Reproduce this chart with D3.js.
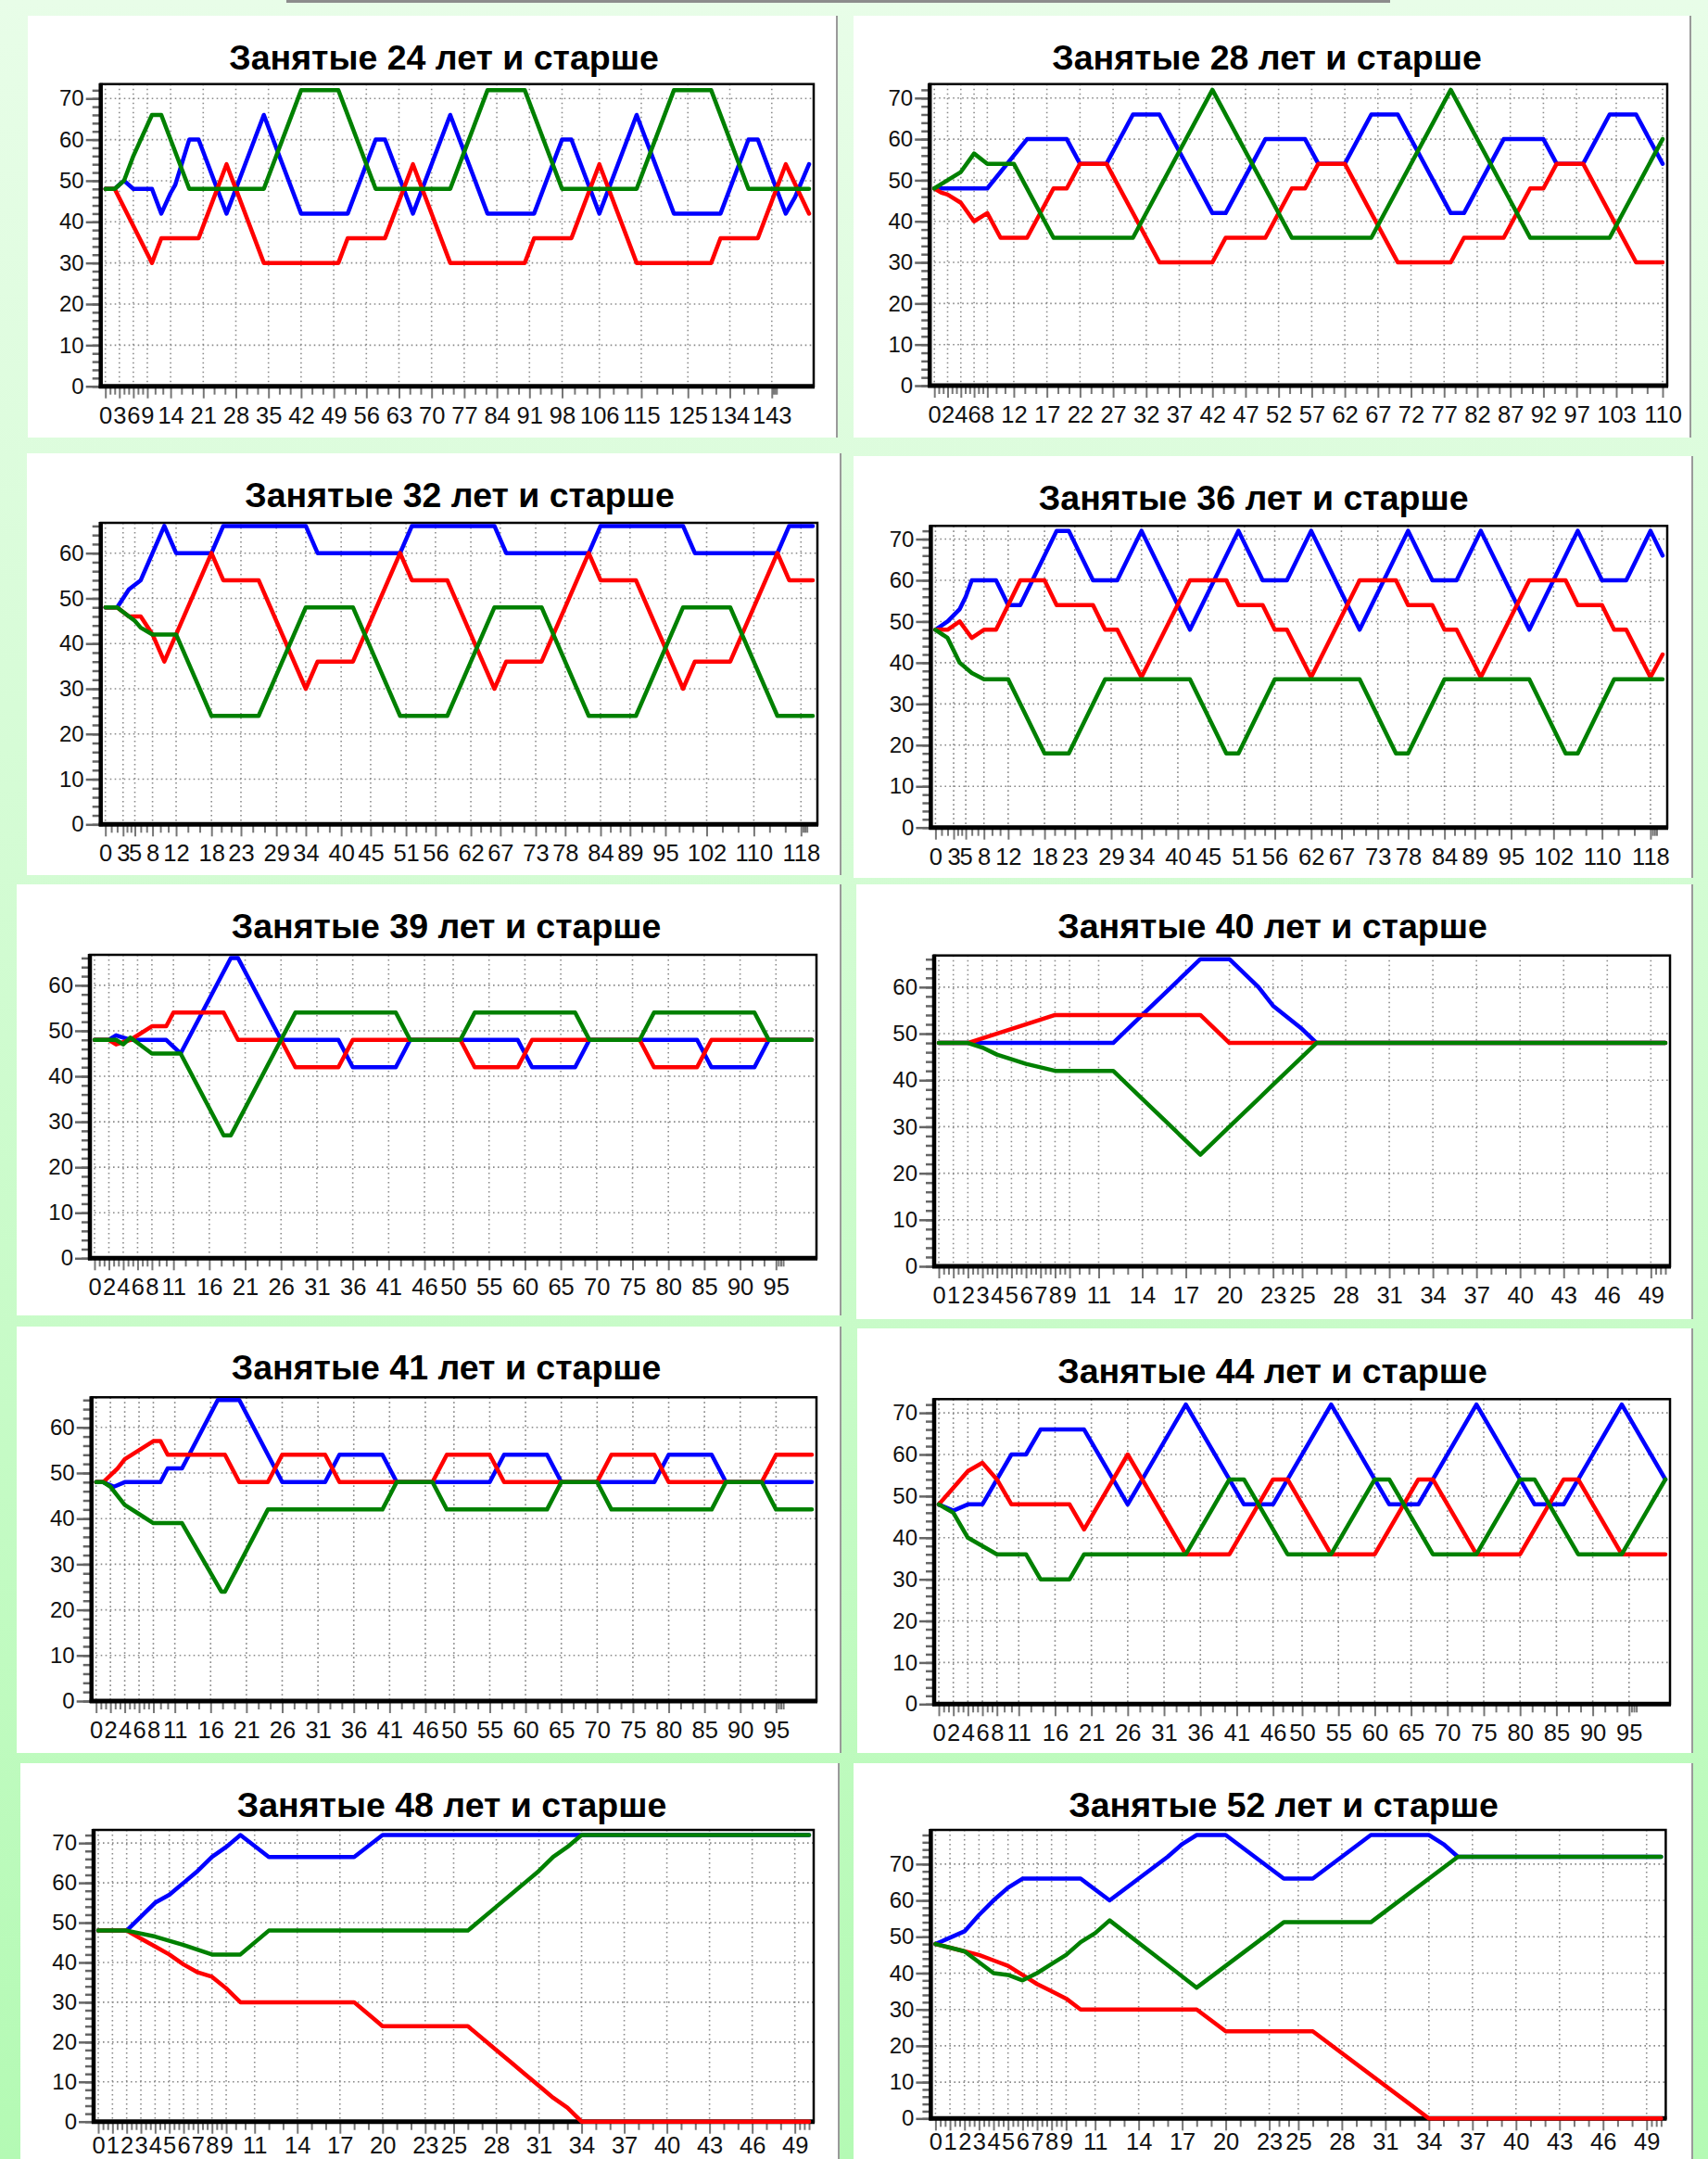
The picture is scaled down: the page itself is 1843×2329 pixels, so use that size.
<!DOCTYPE html>
<html>
<head>
<meta charset="utf-8">
<script src="https://cdn.jsdelivr.net/npm/d3@7/dist/d3.min.js"></script>
<style>
  body { margin: 0; background: #e8fde8; }
  svg { display: block; }
</style>
</head>
<body>
<script>
// Data
// ------------------------------

var titles = [
  "Занятые 24 лет и старше", "Занятые 28 лет и старше",
  "Занятые 32 лет и старше", "Занятые 36 лет и старше",
  "Занятые 39 лет и старше", "Занятые 40 лет и старше",
  "Занятые 41 лет и старше", "Занятые 44 лет и старше",
  "Занятые 48 лет и старше", "Занятые 52 лет и старше"
];
var lastStep = [151, 110, 120, 120, 100, 50, 100, 100, 50, 50];
var yTops = [73.5, 73.4, 66.7, 73.2, 66.7, 66.8, 66.6, 73.3, 73.3, 79.4];

// x tick labels as they are printed under each chart
var ticks24 = [0, 3, 6, 9, 14, 21, 28, 35, 42, 49, 56, 63, 70, 77, 84, 91, 98, 106, 115, 125, 134, 143];
var ticks28 = [0, 2, 4, 6, 8, 12, 17, 22, 27, 32, 37, 42, 47, 52, 57, 62, 67, 72, 77, 82, 87, 92, 97, 103, 110];
var ticks32 = [0, 3, 5, 8, 12, 18, 23, 29, 34, 40, 45, 51, 56, 62, 67, 73, 78, 84, 89, 95, 102, 110, 118];
var ticks39 = [0, 2, 4, 6, 8, 11, 16, 21, 26, 31, 36, 41, 46, 50, 55, 60, 65, 70, 75, 80, 85, 90, 95];
var ticks40 = [0, 1, 2, 3, 4, 5, 6, 7, 8, 9, 11, 14, 17, 20, 23, 25, 28, 31, 34, 37, 40, 43, 46, 49];

// series as [step, value] at the corners of each line
var blue24 = [[0,48],[2,48],[4,50],[6,48],[10,48],[12,42],[14,47],[15,49],[18,60],[20,60],[26,42],[34,66],[42,42],[52,42],[58,60],[60,60],[66,42],[74,66],[82,42],[92,42],[98,60],[100,60],[106,42],[114,66],[122,42],[132,42],[138,60],[140,60],[146,42],[148,46],[151,54]];
var red24 = [[0,48],[2,48],[10,30],[12,36],[20,36],[26,54],[34,30],[50,30],[52,36],[60,36],[66,54],[74,30],[90,30],[92,36],[100,36],[106,54],[114,30],[130,30],[132,36],[140,36],[146,54],[151,42]];
var green24 = [[0,48],[2,48],[4,50],[6,56],[8,61],[10,66],[12,66],[18,48],[34,48],[42,72],[50,72],[58,48],[74,48],[82,72],[90,72],[98,48],[114,48],[122,72],[130,72],[138,48],[151,48]];

var blue28 = [[0,48],[8,48],[14,60],[20,60],[22,54],[26,54],[30,66],[34,66],[42,42],[44,42],[50,60],[56,60],[58,54],[62,54],[66,66],[70,66],[78,42],[80,42],[86,60],[92,60],[94,54],[98,54],[102,66],[106,66],[110,54]];
var red28 = [[0,48],[1,47],[2,46.5],[4,44.5],[6,40],[8,42],[10,36],[14,36],[18,48],[20,48],[22,54],[26,54],[34,30],[42,30],[44,36],[50,36],[54,48],[56,48],[58,54],[62,54],[70,30],[78,30],[80,36],[86,36],[90,48],[92,48],[94,54],[98,54],[106,30],[110,30]];
var green28 = [[0,48],[2,50],[4,52],[6,56.5],[8,54],[12,54],[18,36],[30,36],[42,72],[54,36],[66,36],[78,72],[90,36],[102,36],[110,60]];

var blue32 = [[0,48],[2,48],[4,52],[6,54],[8,60],[10,66],[12,60],[18,60],[20,66],[34,66],[36,60],[50,60],[52,66],[66,66],[68,60],[82,60],[84,66],[98,66],[100,60],[114,60],[116,66],[120,66]];
var red32 = [[0,48],[2,48],[4,46],[6,46],[8,42],[10,36],[12,42],[18,60],[20,54],[26,54],[34,30],[36,36],[42,36],[50,60],[52,54],[58,54],[66,30],[68,36],[74,36],[82,60],[84,54],[90,54],[98,30],[100,36],[106,36],[114,60],[116,54],[120,54]];
var green32 = [[0,48],[2,48],[4,46],[5,45],[6,43.5],[8,42],[12,42],[18,24],[26,24],[34,48],[42,48],[50,24],[58,24],[66,48],[74,48],[82,24],[90,24],[98,48],[106,48],[114,24],[120,24]];

var blue36 = [[0,48],[2,50],[4,53],[5,56],[6,60],[10,60],[12,54],[14,54],[20,72],[22,72],[26,60],[30,60],[34,72],[42,48],[50,72],[54,60],[58,60],[62,72],[70,48],[78,72],[82,60],[86,60],[90,72],[98,48],[106,72],[110,60],[114,60],[118,72],[120,66]];
var red36 = [[0,48],[2,48],[4,50],[6,46],[8,48],[10,48],[12,54],[14,60],[18,60],[20,54],[26,54],[28,48],[30,48],[34,36.5],[42,60],[48,60],[50,54],[54,54],[56,48],[58,48],[62,36.5],[70,60],[76,60],[78,54],[82,54],[84,48],[86,48],[90,36.5],[98,60],[104,60],[106,54],[110,54],[112,48],[114,48],[118,36.5],[120,42]];
var green36 = [[0,48],[2,46],[4,40],[6,37.5],[8,36],[12,36],[18,18],[22,18],[28,36],[42,36],[48,18],[50,18],[56,36],[70,36],[76,18],[78,18],[84,36],[98,36],[104,18],[106,18],[112,36],[120,36]];

var blue39 = [[0,48],[2,48],[3,49],[5,48],[10,48],[12,45],[19,66],[20,66],[26,48],[34,48],[36,42],[42,42],[44,48],[59,48],[61,42],[67,42],[69,48],[84,48],[86,42],[92,42],[94,48],[100,48]];
var red39 = [[0,48],[2,48],[3,47],[5,48],[8,51],[10,51],[11,54],[18,54],[20,48],[26,48],[28,42],[34,42],[36,48],[51,48],[53,42],[59,42],[61,48],[76,48],[78,42],[84,42],[86,48],[100,48]];
var green39 = [[0,48],[3,48],[4,47],[5,48.5],[8,45],[12,45],[18,27],[19,27],[26,48],[28,54],[42,54],[44,48],[51,48],[53,54],[67,54],[69,48],[76,48],[78,54],[92,54],[94,48],[100,48]];

var blue40 = [[0,48],[12,48],[14,54],[16,60],[18,66],[20,66],[22,60],[23,56],[25,51],[26,48],[50,48]];
var red40 = [[0,48],[2,48],[8,54],[18,54],[20,48],[50,48]];
var green40 = [[0,48],[2,48],[3,47],[4,45.5],[6,43.5],[8,42],[12,42],[14,36],[18,24],[20,30],[21,33],[22,36],[23,39],[25,45],[26,48],[50,48]];

var blue41 = [[0,48],[1,48],[2.5,47],[4,48],[9,48],[10,51],[12,51],[17,66],[20,66],[26,48],[32,48],[34,54],[40,54],[42,48],[55,48],[57,54],[63,54],[65,48],[78,48],[80,54],[86,54],[88,48],[100,48]];
var red41 = [[0,48],[1,48],[3,51],[4,53],[6,55],[8,57],[9,57],[10,54],[18,54],[20,48],[24,48],[26,54],[32,54],[34,48],[47,48],[49,54],[55,54],[57,48],[70,48],[72,54],[78,54],[80,48],[93,48],[95,54],[100,54]];
var green41 = [[0,48],[1,48],[2,47],[3,45],[4,43],[6,41],[8,39],[12,39],[17.5,24],[18,24],[24,42],[40,42],[42,48],[47,48],[49,42],[63,42],[65,48],[70,48],[72,42],[86,42],[88,48],[93,48],[95,42],[100,42]];

var blue44 = [[0,48],[2,46.5],[4,48],[6,48],[10,60],[12,60],[14,66],[20,66],[26,48],[34,72],[42,48],[46,48],[54,72],[62,48],[66,48],[74,72],[82,48],[86,48],[94,72],[100,54]];
var red44 = [[0,48],[2,52],[4,56],[6,58],[8,54],[10,48],[18,48],[20,42],[26,60],[34,36],[40,36],[46,54],[48,54],[54,36],[60,36],[66,54],[68,54],[74,36],[80,36],[86,54],[88,54],[94,36],[100,36]];
var green44 = [[0,48],[2,46],[4,40],[6,38],[8,36],[12,36],[14,30],[18,30],[20,36],[34,36],[40,54],[42,54],[48,36],[54,36],[60,54],[62,54],[68,36],[74,36],[80,54],[82,54],[88,36],[94,36],[100,54]];

var blue48 = [[0,48],[2,48],[3,51.5],[4,55],[5,57],[6,60],[7,63],[8,66.5],[9,69],[10,72],[12,66.5],[18,66.5],[20,72],[50,72]];
var red48 = [[0,48],[2,48],[3,46],[4,44],[5,42],[6,39.5],[7,37.5],[8,36.4],[9,33.5],[10,30],[18,30],[19,27],[20,24],[26,24],[28,18],[29,15],[30,12],[31,9],[32,6],[33,3.5],[34,0],[50,0]];
var green48 = [[0,48],[2,48],[4,46.5],[6,44.4],[8,42],[10,42],[12,48],[26,48],[28,54],[29,57],[30,60],[31,63],[32,66.5],[33,69],[34,72],[50,72]];

var blue52 = [[0,48],[2,51.5],[3,56],[4,60],[5,63.5],[6,66],[10,66],[12,60],[14,66],[16,72],[17,75.5],[18,78],[20,78],[22,72],[24,66],[26,66],[28,72],[30,78],[34,78],[35,75.5],[36,72],[50,72]];
var red52 = [[0,48],[1,47],[2,46],[3,45],[4,43.5],[5,42],[6,39.5],[7,37],[8,35],[9,33],[10,30],[18,30],[19,27],[20,24],[26,24],[34,0],[50,0]];
var green52 = [[0,48],[1,47],[2,46],[4,40],[5,39.5],[6,38],[7,40],[8,42.5],[9,45],[10,48.5],[11,51],[12,54.5],[18,36],[24,54],[30,54],[36,72],[50,72]];

var seriesSets = [
  [blue24, red24, green24], [blue28, red28, green28],
  [blue32, red32, green32], [blue36, red36, green36],
  [blue39, red39, green39], [blue40, red40, green40],
  [blue41, red41, green41], [blue44, red44, green44],
  [blue48, red48, green48], [blue52, red52, green52]
];
var tickSets = [ticks24, ticks28, ticks32, ticks32, ticks39, ticks40, ticks39, ticks39, ticks40, ticks40];
var colors = ["#0000ff", "#ff0000", "#008000"];

// Layout (page pixels)
// ------------------------------
var layout = [
  {box: [30, 17, 873, 455],  plot: [108.7, 90.7, 878, 416.7],    title: [479, 75]},
  {box: [921, 17, 903, 455], plot: [1003.2, 90.7, 1799, 416],    title: [1367, 75]},
  {box: [29, 489, 878, 455], plot: [108.7, 564, 882, 889.3],     title: [496, 546.7]},
  {box: [921, 492, 905, 455], plot: [1004.4, 567.3, 1799, 892.7], title: [1352.7, 550]},
  {box: [18, 954, 889, 465], plot: [97, 1030, 881, 1357.3],      title: [481.6, 1011.7]},
  {box: [924, 954, 902, 469], plot: [1008, 1030.7, 1802, 1366],  title: [1373, 1011.7]},
  {box: [18, 1431, 889, 460], plot: [98.7, 1507.3, 881, 1835],   title: [481.6, 1488.3]},
  {box: [925, 1433, 901, 458], plot: [1008, 1509.3, 1802, 1838.3], title: [1373, 1491.7]},
  {box: [22, 1902, 883, 427], plot: [101, 1974, 878, 2288.7],    title: [487.5, 1960]},
  {box: [921, 1902, 905, 427], plot: [1004.4, 1974, 1797.4, 2285.3], title: [1385, 1960]}
];

var W = 1843, H = 2329;
var FONT = '"Liberation Sans", Arial, sans-serif';

var svg = d3.select("body").append("svg")
    .attr("width", W)
    .attr("height", H);

var grad = svg.append("defs").append("linearGradient")
    .attr("id", "bg")
    .attr("x1", 0).attr("y1", 0).attr("x2", 0).attr("y2", 1);
grad.append("stop").attr("offset", "0%").attr("stop-color", "#e8fde8");
grad.append("stop").attr("offset", "100%").attr("stop-color", "#b4fab4");

svg.append("rect").attr("width", W).attr("height", H).attr("fill", "url(#bg)");
// grey strip at the very top
svg.append("rect").attr("x", 309).attr("y", 0).attr("width", 1191).attr("height", 3).attr("fill", "#8c8c8c");

function minorSteps(labels, last) {
  var out = [];
  for (var i = 0; i < labels.length - 1; i++) {
    var a = labels[i], b = labels[i + 1];
    out.push(a + (b - a) / 3, a + 2 * (b - a) / 3);
  }
  var end = labels[labels.length - 1];
  for (var k = 1; k <= 3; k++) {
    if (end + k / 3 <= last) out.push(end + k / 3);
  }
  return out;
}

function styleAxis(sel, color, width, size) {
  sel.select(".domain").remove();
  sel.selectAll(".tick line").attr("stroke", color).attr("stroke-width", width);
  sel.selectAll(".tick text")
      .attr("fill", "#111")
      .style("font-family", FONT)
      .style("font-size", size + "px");
}

function drawPanel(n) {
  var lay = layout[n];
  var L = lay.plot[0], T = lay.plot[1], R = lay.plot[2], B = lay.plot[3];
  var g = svg.append("g");

  g.append("rect")
      .attr("x", lay.box[0]).attr("y", lay.box[1])
      .attr("width", lay.box[2]).attr("height", lay.box[3])
      .attr("fill", "#ffffff");
  g.append("line")
      .attr("x1", lay.box[0] + lay.box[2]).attr("x2", lay.box[0] + lay.box[2])
      .attr("y1", lay.box[1]).attr("y2", lay.box[1] + lay.box[3])
      .attr("stroke", "#9a9a9a").attr("stroke-width", 2);

  var x = d3.scaleLinear().domain([0, lastStep[n]]).range([L + 5, R - 5]);
  var y = d3.scaleLinear().domain([0, yTops[n]]).range([B, T]);
  var labels = tickSets[n];
  var majorY = d3.range(0, yTops[n], 10);

  g.append("text")
      .attr("x", lay.title[0]).attr("y", lay.title[1])
      .attr("text-anchor", "middle")
      .style("font-family", FONT)
      .style("font-size", "37.5px")
      .style("font-weight", "bold")
      .text(titles[n]);

  // dotted grid
  var grid = g.append("g").attr("stroke", "#8a8a8a").attr("stroke-width", 1.6).attr("stroke-dasharray", "1.6,3.4");
  grid.selectAll("line.v").data(labels).enter().append("line")
      .attr("x1", function(d) { return x(d); }).attr("x2", function(d) { return x(d); })
      .attr("y1", T).attr("y2", B);
  grid.selectAll("line.h").data(majorY.slice(1)).enter().append("line")
      .attr("x1", L).attr("x2", R)
      .attr("y1", function(d) { return y(d); }).attr("y2", function(d) { return y(d); });

  // y axis: minor every 2, major every 10
  g.append("g").attr("transform", "translate(" + (L - 1) + ",0)")
      .call(d3.axisLeft(y).tickValues(d3.range(0, yTops[n], 2)).tickSize(8).tickFormat(""))
      .call(styleAxis, "#666", 2.5, 24);
  g.append("g").attr("transform", "translate(" + (L - 1) + ",0)")
      .call(d3.axisLeft(y).tickValues(majorY).tickSize(15).tickPadding(2).tickFormat(d3.format("d")))
      .call(styleAxis, "#666", 2.5, 24);

  // x axis: labelled ticks plus thirds between them
  var pad = n >= 8 ? 3 : 9;
  g.append("g").attr("transform", "translate(0," + (B + 1) + ")")
      .call(d3.axisBottom(x).tickValues(minorSteps(labels, lastStep[n])).tickSize(8).tickFormat(""))
      .call(styleAxis, "#777", 2, 25.5);
  g.append("g").attr("transform", "translate(0," + (B + 1) + ")")
      .call(d3.axisBottom(x).tickValues(labels).tickSize(12).tickPadding(pad).tickFormat(d3.format("d")))
      .call(styleAxis, "#777", 2, 25.5);

  // frame
  g.append("rect")
      .attr("x", L).attr("y", T).attr("width", R - L).attr("height", B - T)
      .attr("fill", "none").attr("stroke", "#000").attr("stroke-width", 2.5);
  g.append("line").attr("x1", L).attr("x2", L).attr("y1", T - 1).attr("y2", B + 2)
      .attr("stroke", "#000").attr("stroke-width", 4.5);
  g.append("line").attr("x1", L - 2).attr("x2", R + 1).attr("y1", B).attr("y2", B)
      .attr("stroke", "#000").attr("stroke-width", 5);

  var line = d3.line()
      .x(function(d) { return x(d[0]); })
      .y(function(d) { return y(d[1]); });

  seriesSets[n].forEach(function(s, i) {
    g.append("path")
        .datum(s)
        .attr("d", line)
        .attr("fill", "none")
        .attr("stroke", colors[i])
        .attr("stroke-width", 4.5)
        .attr("stroke-linejoin", "round")
        .attr("stroke-linecap", "round");
  });
}

for (var n = 0; n < layout.length; n++) {
  drawPanel(n);
}
</script>
</body>
</html>
